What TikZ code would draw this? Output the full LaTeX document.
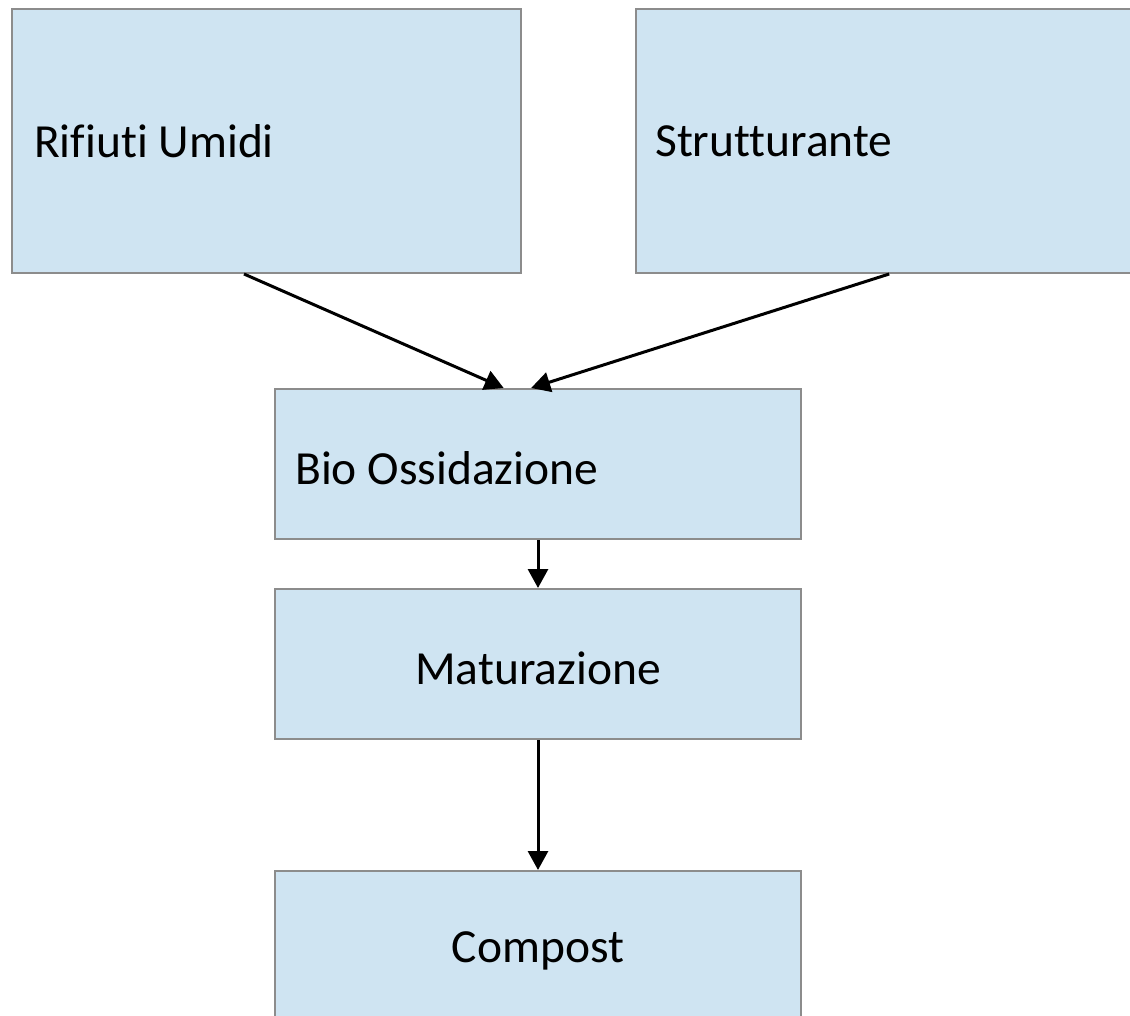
\documentclass[tikz,border=0pt]{standalone}
\usepackage{fontspec}
\setmainfont[Ligatures=NoCommon]{Carlito}
\usetikzlibrary{arrows.meta,calc}
\definecolor{boxfill}{HTML}{CFE4F2}
\definecolor{boxline}{HTML}{8C8C8C}
\begin{document}
\begin{tikzpicture}[x=1pt,y=-1pt,
  box/.style={draw=boxline,fill=boxfill,line width=2pt,rectangle,anchor=north west,inner sep=0pt},
  lbl/.style={font=\fontsize{47.5}{56}\selectfont,anchor=west,inner sep=0pt},
  arr/.style={line width=3pt,-{Triangle[length=19pt,width=20pt]}}]
\useasboundingbox (0,0) rectangle (1130,1016);
\clip (0,0) rectangle (1130,1016);
\node[box,minimum width=509pt,minimum height=264pt] (rif) at (11,8) {};
\node[box,minimum width=520pt,minimum height=264pt] (str) at (635,8) {};
\node[box,minimum width=526pt,minimum height=150pt] (bio) at (274,388) {};
\node[box,minimum width=526pt,minimum height=150pt] (mat) at (274,588) {};
\node[box,minimum width=526pt,minimum height=160pt] (com) at (274,870) {};
\node[lbl] (trif) at ($(rif.west)+(23,0)$) {Rifiuti Umidi};
\node[lbl] (tstr) at ($(str.west)+(20,0)$) {Strutturante};
\node[lbl] (tbio) at ($(bio.west)+(21,4)$) {Bio Ossidazione};
\node[lbl,anchor=center] (tmat) at ($(mat.center)+(0,4)$) {Maturazione};
\node[lbl,anchor=center] (tcom) at ($(com.center)+(0,0)$) {Compost};
\coordinate (rifout) at ($(rif.south west)!0.456!(rif.south east)$);
\coordinate (strout) at ($(str.south west)!0.487!(str.south east)$);
\coordinate (bioin1) at ($(bio.north west)!0.435!(bio.north east)$);
\coordinate (bioin2) at ($(bio.north west)!0.487!(bio.north east)$);
\draw[arr] (rifout) -- (bioin1);
\draw[arr] (strout) -- (bioin2);
\draw[arr] (bio.south) -- (mat.north);
\draw[arr] (mat.south) -- (com.north);
\end{tikzpicture}
\end{document}
